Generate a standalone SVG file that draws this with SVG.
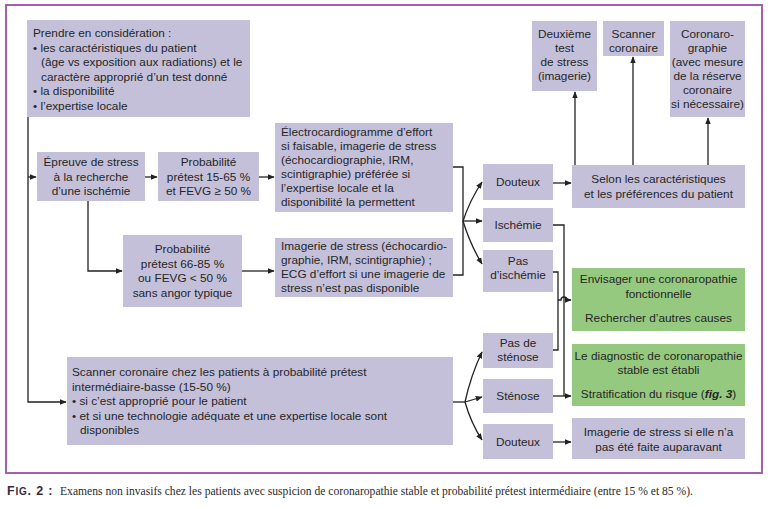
<svg xmlns="http://www.w3.org/2000/svg" width="768" height="509" viewBox="0 0 768 509">
<defs>
<marker id="ah" viewBox="0 0 10 10" refX="9" refY="5" markerWidth="7" markerHeight="7" markerUnits="userSpaceOnUse" orient="auto">
<path d="M0,1 L10,5 L0,9 z" fill="#222"/>
</marker>
<style>
.b{fill:#c4c0da}
.g{fill:#94c97f}
.t{font-family:"Liberation Sans",Arial,sans-serif;font-size:11.8px;fill:#262626}
.c{text-anchor:middle}
.ln{fill:none;stroke:#222;stroke-width:1.3}
</style>
</defs>
<rect x="0" y="0" width="768" height="509" fill="#fff"/>
<rect x="6" y="5" width="756" height="468" fill="none" stroke="#a35fab" stroke-width="2"/>

<g id="connectors">
<path class="ln" d="M28 117 V402 H66" marker-end="url(#ah)"/>
<path class="ln" d="M28 177 H36" marker-end="url(#ah)"/>
<path class="ln" d="M145 177 H157" marker-end="url(#ah)"/>
<path class="ln" d="M259 177 H274" marker-end="url(#ah)"/>
<path class="ln" d="M88 201 V271 H122" marker-end="url(#ah)"/>
<path class="ln" d="M242 271 H274" marker-end="url(#ah)"/>
<path class="ln" d="M453 167 H463 V275 H453"/>
<path class="ln" d="M463 221 Q470 200 482 182" marker-end="url(#ah)"/>
<path class="ln" d="M463 221 H482" marker-end="url(#ah)"/>
<path class="ln" d="M463 221 Q470 244 482 264" marker-end="url(#ah)"/>
<path class="ln" d="M553 183 H571" marker-end="url(#ah)"/>
<path class="ln" d="M575 165 V92" marker-end="url(#ah)"/>
<path class="ln" d="M633 165 V57" marker-end="url(#ah)"/>
<path class="ln" d="M708 165 V118" marker-end="url(#ah)"/>
<path class="ln" d="M553 225 H564 V396"/>
<path class="ln" d="M553 396 H571" marker-end="url(#ah)"/>
<path class="ln" d="M553 272 H558 V350 H553"/>
<path class="ln" d="M558 300 H561 A3 3 0 0 1 567 300 H571" marker-end="url(#ah)"/>
<path class="ln" d="M453 402 H465"/>
<path class="ln" d="M465 402 Q471 375 482 352" marker-end="url(#ah)"/>
<path class="ln" d="M465 402 L482 397" marker-end="url(#ah)"/>
<path class="ln" d="M465 402 Q471 423 482 440" marker-end="url(#ah)"/>
<path class="ln" d="M553 442 H571" marker-end="url(#ah)"/>
</g>

<g id="considerer">
<rect class="b" x="27" y="20" width="223" height="97"/>
<text class="t" x="33" y="37">Prendre en considération :</text>
<text class="t" x="33" y="51.5">• les caractéristiques du patient</text>
<text class="t" x="41" y="66">(âge vs exposition aux radiations) et le</text>
<text class="t" x="41" y="80.5">caractère approprié d’un test donné</text>
<text class="t" x="33" y="95">• la disponibilité</text>
<text class="t" x="33" y="109.5">• l’expertise locale</text>
</g>

<g id="epreuve">
<rect class="b" x="37" y="152" width="108" height="49"/>
<text class="t c" x="91" y="166">Épreuve de stress</text>
<text class="t c" x="91" y="180.5">à la recherche</text>
<text class="t c" x="91" y="195">d’une ischémie</text>
</g>

<g id="prob1">
<rect class="b" x="158" y="152" width="101" height="49"/>
<text class="t c" x="208.5" y="166">Probabilité</text>
<text class="t c" x="208.5" y="180.5">prétest 15-65 %</text>
<text class="t c" x="208.5" y="195">et FEVG ≥ 50 %</text>
</g>

<g id="ecg">
<rect class="b" x="275" y="123" width="178" height="89"/>
<text class="t" x="281" y="136">Électrocardiogramme d’effort</text>
<text class="t" x="281" y="150">si faisable, imagerie de stress</text>
<text class="t" x="281" y="164">(échocardiographie, IRM,</text>
<text class="t" x="281" y="178">scintigraphie) préférée si</text>
<text class="t" x="281" y="192">l’expertise locale et la</text>
<text class="t" x="281" y="206">disponibilité la permettent</text>
</g>

<g id="prob2">
<rect class="b" x="123" y="235" width="119" height="72"/>
<text class="t c" x="182.5" y="253">Probabilité</text>
<text class="t c" x="182.5" y="267.5">prétest 66-85 %</text>
<text class="t c" x="182.5" y="282">ou FEVG &lt; 50 %</text>
<text class="t c" x="182.5" y="296.5">sans angor typique</text>
</g>

<g id="imagerie">
<rect class="b" x="275" y="238" width="178" height="59"/>
<text class="t" x="281" y="250">Imagerie de stress (échocardio-</text>
<text class="t" x="281" y="264">graphie, IRM, scintigraphie) ;</text>
<text class="t" x="281" y="278">ECG d’effort si une imagerie de</text>
<text class="t" x="281" y="292">stress n’est pas disponible</text>
</g>

<g id="douteux1">
<rect class="b" x="483" y="164" width="70" height="36"/>
<text class="t c" x="518" y="186">Douteux</text>
</g>

<g id="ischemie">
<rect class="b" x="483" y="208" width="70" height="34"/>
<text class="t c" x="518" y="229">Ischémie</text>
</g>

<g id="pas-ischemie">
<rect class="b" x="483" y="250" width="70" height="42"/>
<text class="t c" x="518" y="264.5">Pas</text>
<text class="t c" x="518" y="279">d’ischémie</text>
</g>

<g id="selon">
<rect class="b" x="572" y="165" width="173" height="43"/>
<text class="t c" x="658.5" y="183">Selon les caractéristiques</text>
<text class="t c" x="658.5" y="197.5">et les préférences du patient</text>
</g>

<g id="deuxieme">
<rect class="b" x="532" y="21" width="65" height="70"/>
<text class="t c" x="564.5" y="38">Deuxième</text>
<text class="t c" x="564.5" y="52">test</text>
<text class="t c" x="564.5" y="66">de stress</text>
<text class="t c" x="564.5" y="80">(imagerie)</text>
</g>

<g id="scanner-top">
<rect class="b" x="603" y="21" width="61" height="35"/>
<text class="t c" x="633.5" y="38">Scanner</text>
<text class="t c" x="633.5" y="52">coronaire</text>
</g>

<g id="coronarographie">
<rect class="b" x="670" y="21" width="75" height="96"/>
<text class="t c" x="707.5" y="38">Coronaro-</text>
<text class="t c" x="707.5" y="52">graphie</text>
<text class="t c" x="707.5" y="66">(avec mesure</text>
<text class="t c" x="707.5" y="80">de la réserve</text>
<text class="t c" x="707.5" y="94">coronaire</text>
<text class="t c" x="707.5" y="108">si nécessaire)</text>
</g>

<g id="fonctionnelle">
<rect class="g" x="572" y="268" width="173" height="63"/>
<text class="t c" x="658.5" y="283">Envisager une coronaropathie</text>
<text class="t c" x="658.5" y="297.5">fonctionnelle</text>
<text class="t c" x="658.5" y="322">Rechercher d’autres causes</text>
</g>

<g id="diagnostic">
<rect class="g" x="572" y="344" width="173" height="62"/>
<text class="t c" x="658.5" y="360">Le diagnostic de coronaropathie</text>
<text class="t c" x="658.5" y="374">stable est établi</text>
<text class="t c" x="658.5" y="398">Stratification du risque (<tspan font-weight="bold" font-style="italic">fig. 3</tspan>)</text>
</g>

<g id="imagerie-si">
<rect class="b" x="572" y="418" width="173" height="41"/>
<text class="t c" x="658.5" y="436">Imagerie de stress si elle n’a</text>
<text class="t c" x="658.5" y="450.5">pas été faite auparavant</text>
</g>

<g id="pas-stenose">
<rect class="b" x="483" y="333" width="70" height="35"/>
<text class="t c" x="518" y="347">Pas de</text>
<text class="t c" x="518" y="361">sténose</text>
</g>

<g id="stenose">
<rect class="b" x="483" y="379" width="70" height="34"/>
<text class="t c" x="518" y="400">Sténose</text>
</g>

<g id="douteux2">
<rect class="b" x="483" y="424" width="70" height="35"/>
<text class="t c" x="518" y="446">Douteux</text>
</g>

<g id="scanner">
<rect class="b" x="67" y="357" width="386" height="88"/>
<text class="t" x="72" y="376">Scanner coronaire chez les patients à probabilité prétest</text>
<text class="t" x="72" y="390.5">intermédiaire-basse (15-50 %)</text>
<text class="t" x="72" y="405">• si c’est approprié pour le patient</text>
<text class="t" x="72" y="419.5">• et si une technologie adéquate et une expertise locale sont</text>
<text class="t" x="80" y="434">disponibles</text>
</g>

<g id="caption">
<text x="7" y="495" font-family="Liberation Sans,Arial,sans-serif" font-weight="bold" font-size="12.5" letter-spacing="0.8" fill="#3a2a3a">F<tspan font-size="10">IG</tspan>. 2 :</text>
<text x="60" y="495" font-family="Liberation Serif,Times New Roman,serif" font-size="11.5" fill="#2a2a2a" textLength="633" lengthAdjust="spacingAndGlyphs">Examens non invasifs chez les patients avec suspicion de coronaropathie stable et probabilité prétest intermédiaire (entre 15 % et 85 %).</text>
</g>
</svg>
